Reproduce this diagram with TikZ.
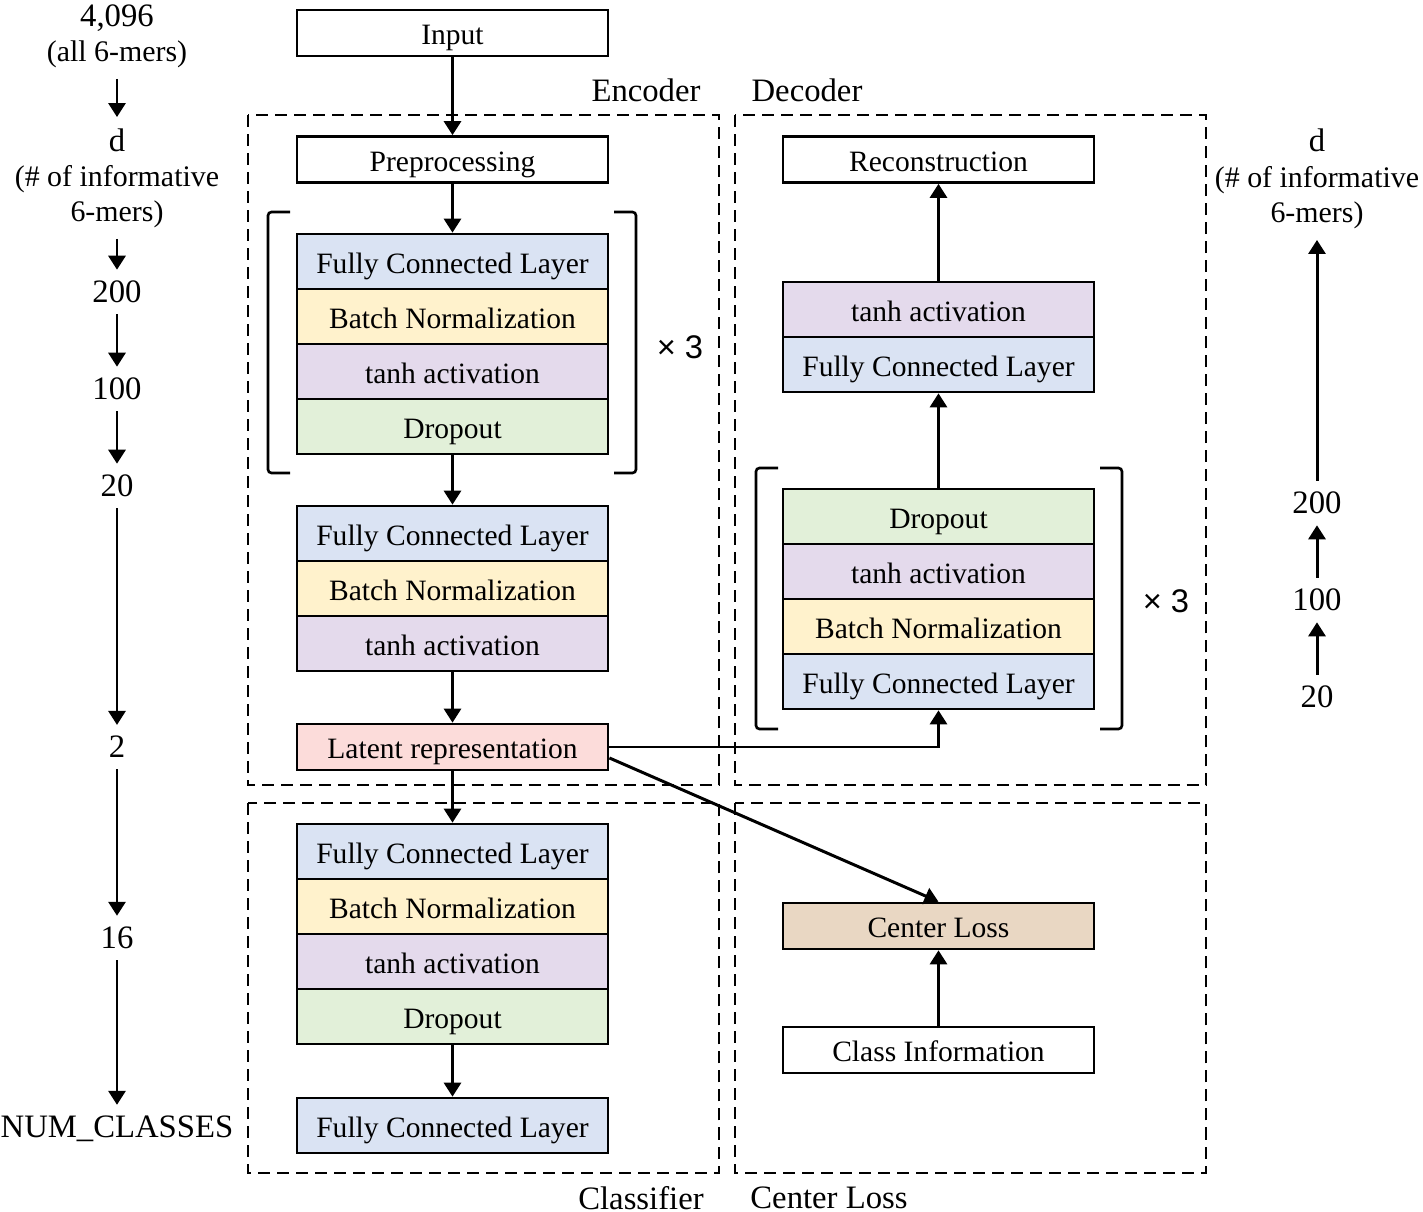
\documentclass[tikz,border=0pt]{standalone}
\usepackage{fontspec}
\setmainfont{Liberation Serif}
\newfontfamily\crossfont{Liberation Sans}
\usetikzlibrary{arrows.meta}

\definecolor{fcblue}{HTML}{DAE3F3}
\definecolor{bnyellow}{HTML}{FFF2CC}
\definecolor{tanhpurple}{HTML}{E4DAEC}
\definecolor{dogreen}{HTML}{E2F0D9}
\definecolor{latentred}{HTML}{FCDCDA}
\definecolor{lossbrown}{HTML}{E9D7C3}

\tikzset{
  layer/.style={draw, line width=0.75pt, minimum width=3.11cm, minimum height=0.55cm,
    inner sep=0pt, text height=0.78em, text depth=0.12em, font=\fontsize{8.4}{10}\selectfont},
  plain/.style={layer, minimum height=0.46cm},
  sidelabel/.style={align=center, inner sep=3pt, font=\fontsize{9.3}{10}\selectfont},
  sidenote/.style={sidelabel, font=\fontsize{8.5}{10}\selectfont},
  repeat/.style={inner sep=0pt, font=\crossfont\fontsize{9.3}{10}\selectfont},
  flow/.style={-{Triangle[length=1.4mm,width=1.7mm]}, line width=0.85pt},
  region/.style={line width=0.85pt, dash pattern=on 1.2mm off 0.7mm},
  bracket/.style={line width=0.75pt, rounded corners=1pt}
}

\begin{document}
\begin{tikzpicture}[x=0.01cm, y=-0.01cm]
\useasboundingbox (0,0) rectangle (1423,1212);

\draw[region] (248,115) rectangle (719,785);
\draw[region] (735,115) rectangle (1206,785);
\draw[region] (248,803) rectangle (719,1173);
\draw[region] (735,803) rectangle (1206,1173);

\node[sidelabel] (encname) at (646,90) {Encoder};
\node[sidelabel] (decname) at (807,90) {Decoder};
\node[sidelabel] (clsname) at (641,1198) {Classifier};
\node[sidelabel] (lossname) at (829,1198) {Center Loss};

\node[plain] (input) at (452.5,33) {Input};
\node[plain] (pre) at (452.5,159.5) {Preprocessing};
\node[layer, fill=fcblue] (efc1) at (452.5,261.5) {Fully Connected Layer};
\node[layer, fill=bnyellow] (ebn1) at (452.5,316.5) {Batch Normalization};
\node[layer, fill=tanhpurple] (eact1) at (452.5,371.5) {tanh activation};
\node[layer, fill=dogreen] (edo1) at (452.5,426.5) {Dropout};
\node[layer, fill=fcblue] (efc2) at (452.5,533.5) {Fully Connected Layer};
\node[layer, fill=bnyellow] (ebn2) at (452.5,588.5) {Batch Normalization};
\node[layer, fill=tanhpurple] (eact2) at (452.5,643.5) {tanh activation};
\node[plain, fill=latentred] (latent) at (452.5,747) {Latent representation};

\node[layer, fill=fcblue] (cfc1) at (452.5,851.5) {Fully Connected Layer};
\node[layer, fill=bnyellow] (cbn1) at (452.5,906.5) {Batch Normalization};
\node[layer, fill=tanhpurple] (cact1) at (452.5,961.5) {tanh activation};
\node[layer, fill=dogreen] (cdo1) at (452.5,1016.5) {Dropout};
\node[layer, fill=fcblue] (cfc2) at (452.5,1125.5) {Fully Connected Layer};

\node[plain] (recon) at (938.5,159.5) {Reconstruction};
\node[layer, fill=tanhpurple] (dact2) at (938.5,309.5) {tanh activation};
\node[layer, fill=fcblue] (dfc2) at (938.5,364.5) {Fully Connected Layer};
\node[layer, fill=dogreen] (ddo1) at (938.5,516.5) {Dropout};
\node[layer, fill=tanhpurple] (dact1) at (938.5,571.5) {tanh activation};
\node[layer, fill=bnyellow] (dbn1) at (938.5,626.5) {Batch Normalization};
\node[layer, fill=fcblue] (dfc1) at (938.5,681.5) {Fully Connected Layer};

\node[plain, fill=lossbrown] (closs) at (938.5,926) {Center Loss};
\node[plain] (cinfo) at (938.5,1050) {Class Information};

\draw[bracket] (290,212) -| (268,473) -- (290,473);
\draw[bracket] (614,212) -| (636,473) -- (614,473);
\node[repeat] (erep) at (680,347) {× 3};
\draw[bracket] (778,468) -| (756,729) -- (778,729);
\draw[bracket] (1100,468) -| (1122,729) -- (1100,729);
\node[repeat] (drep) at (1166,601) {× 3};

\node[sidenote] (s4096) at (117,36) {\fontsize{9.3}{10}\selectfont 4,096\\(all 6-mers)};
\node[sidenote] (sd) at (117,178) {\fontsize{9.3}{10}\selectfont d\\(\# of informative\\6-mers)};
\node[sidelabel] (s200) at (117,292) {200};
\node[sidelabel] (s100) at (117,389) {100};
\node[sidelabel] (s20) at (117,486) {20};
\node[sidelabel] (s2) at (117,747) {2};
\node[sidelabel] (s16) at (117,938) {16};
\node[sidelabel] (sout) at (117,1129) {NUM\_CLASSES};

\node[sidenote] (rd) at (1317,179) {\fontsize{9.3}{10}\selectfont d\\(\# of informative\\6-mers)};
\node[sidelabel] (r200) at (1317,503) {200};
\node[sidelabel] (r100) at (1317,600) {100};
\node[sidelabel] (r20) at (1317,697) {20};

\path[flow]
(input) edge (pre)
(pre) edge (efc1)
(edo1) edge (efc2)
(eact2) edge (latent)
(latent) edge (cfc1)
(cdo1) edge (cfc2)
(ddo1) edge (dfc2)
(dact2) edge (recon)
(cinfo) edge (closs)
(latent.-4) edge (closs.north)
(s4096) edge (sd)
(sd) edge (s200)
(s200) edge (s100)
(s100) edge (s20)
(s20) edge (s2)
(s2) edge (s16)
(s16) edge (sout)
(r20) edge (r100)
(r100) edge (r200)
(r200) edge (rd);
\draw[flow] (latent.east) -| (dfc1.south);
\end{tikzpicture}
\end{document}
